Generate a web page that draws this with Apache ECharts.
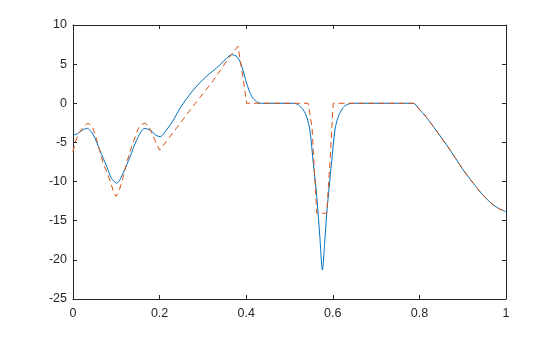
<!DOCTYPE html>
<html>
<head>
<meta charset="utf-8">
<script src="https://cdn.jsdelivr.net/npm/echarts@6/dist/echarts.min.js"></script>
<style>html,body{margin:0;padding:0;background:#fff}#c{width:560px;height:337px}</style>
</head>
<body>
<div id="c"></div>
<script>
var xTicks = [0, 0.2, 0.4, 0.6, 0.8, 1];
var yTicks = [-25, -20, -15, -10, -5, 0, 5, 10];

var blueX = [0, 0.01, 0.02, 0.032, 0.047, 0.062, 0.078, 0.089, 0.101, 0.116, 0.132, 0.147, 0.166, 0.18, 0.192, 0.201, 0.216, 0.232, 0.247, 0.263, 0.278, 0.293, 0.309, 0.324, 0.339, 0.355, 0.366, 0.379, 0.39, 0.401, 0.413, 0.424, 0.435, 0.51, 0.52, 0.532, 0.54, 0.547, 0.555, 0.563, 0.57, 0.576, 0.581, 0.586, 0.592, 0.597, 0.605, 0.612, 0.62, 0.63, 0.645, 0.785, 0.79, 0.801, 0.812, 0.824, 0.843, 0.863, 0.882, 0.901, 0.92, 0.94, 0.955, 0.971, 0.985, 1];
var blueY = [-4.05, -3.9, -3.5, -3.2, -4.05, -6.0, -8.1, -9.6, -10.2, -8.9, -6.8, -4.7, -3.2, -3.5, -4.1, -4.26, -3.4, -2.13, -0.64, 0.64, 1.7, 2.63, 3.49, 4.16, 4.9, 5.75, 6.2, 5.95, 4.67, 2.55, 0.85, 0.2, 0, 0, -0.2, -0.86, -1.8, -3.4, -7.66, -11.9, -17, -21.3, -18, -14.05, -10.5, -7.66, -3.4, -1.8, -0.86, -0.25, 0, 0, -0.1, -0.86, -1.5, -2.35, -3.8, -5.33, -6.9, -8.5, -9.9, -11.3, -12.2, -13.0, -13.5, -13.84];

var orangeX = [0, 0.005, 0.012, 0.02, 0.028, 0.035, 0.045, 0.055, 0.07, 0.085, 0.093, 0.099, 0.106, 0.115, 0.125, 0.135, 0.15, 0.158, 0.166, 0.175, 0.185, 0.2, 0.24, 0.274, 0.324, 0.36, 0.381, 0.392, 0.401, 0.543, 0.552, 0.563, 0.586, 0.594, 0.601, 0.785, 0.79, 0.801, 0.812, 0.824, 0.843, 0.863, 0.882, 0.901, 0.92, 0.94, 0.955, 0.971, 0.985, 1];
var orangeY = [-6.2, -5.0, -4.0, -3.3, -2.8, -2.55, -3.0, -4.7, -7.7, -9.8, -11.2, -11.9, -11.3, -9.6, -7.4, -5.6, -3.3, -2.7, -2.55, -2.9, -4.2, -6.0, -3.1, -0.6, 2.9, 5.8, 7.3, 3.5, 0, 0, -3, -14.05, -14.05, -7, 0, 0, -0.1, -0.86, -1.5, -2.35, -3.8, -5.33, -6.9, -8.5, -9.9, -11.3, -12.2, -13.0, -13.5, -13.84];

function pairs(xs, ys) { return xs.map(function (x, i) { return [x, ys[i]]; }); }

var axisCol = '#262626';
var font = 'Liberation Sans, Arial, Helvetica, sans-serif';
function xAx(pos, showLabel) {
  return {
    type: 'value', position: pos,
    min: xTicks[0], max: xTicks[xTicks.length - 1], interval: xTicks[1] - xTicks[0],
    axisLine: { show: true, onZero: false, lineStyle: { color: axisCol, width: 1 } },
    axisTick: { show: true, inside: true, length: 4, lineStyle: { color: axisCol } },
    axisLabel: { show: showLabel, color: axisCol, fontSize: 12.5, fontFamily: font, margin: 8 },
    splitLine: { show: false }
  };
}
function yAx(pos, showLabel) {
  return {
    type: 'value', position: pos,
    min: yTicks[0], max: yTicks[yTicks.length - 1], interval: yTicks[1] - yTicks[0],
    axisLine: { show: true, onZero: false, lineStyle: { color: axisCol, width: 1 } },
    axisTick: { show: true, inside: true, length: 4, lineStyle: { color: axisCol } },
    axisLabel: { show: showLabel, color: axisCol, fontSize: 12.5, fontFamily: font, margin: 6 },
    splitLine: { show: false }
  };
}

var chart = echarts.init(document.getElementById('c'), null, { renderer: 'canvas' });
chart.setOption({
  animation: false,
  backgroundColor: '#fff',
  grid: { left: 73, top: 25, right: 54, bottom: 38 },
  xAxis: [xAx('bottom', true), xAx('top', false)],
  yAxis: [yAx('left', true), yAx('right', false)],
  series: [
    {
      type: 'line', data: pairs(blueX, blueY), showSymbol: false, smooth: 0.3,
      lineStyle: { color: '#0072BD', width: 1 }, z: 2
    },
    {
      type: 'line', data: pairs(orangeX, orangeY), showSymbol: false, smooth: false,
      lineStyle: { color: '#D95319', width: 1, type: [6, 4] }, z: 3
    }
  ]
});
</script>
</body>
</html>
